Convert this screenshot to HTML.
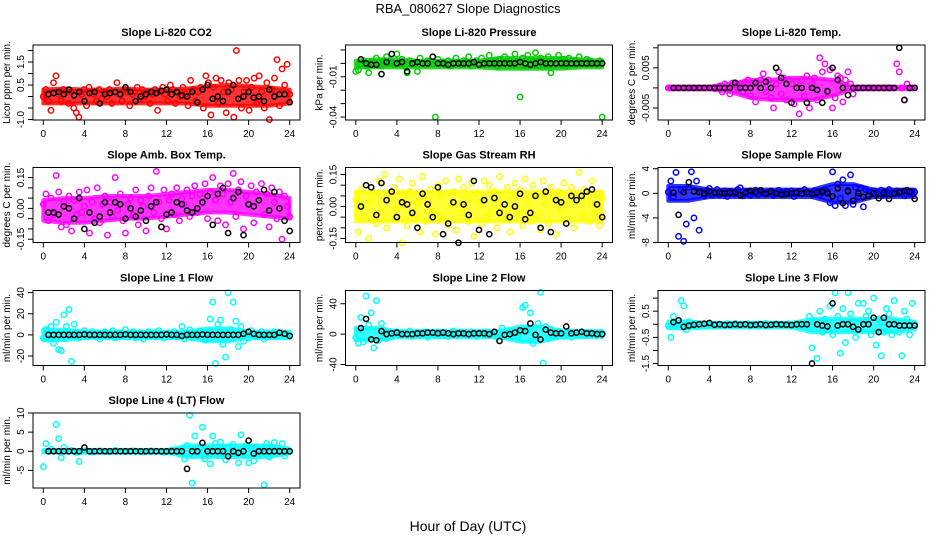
<!DOCTYPE html>
<html><head><meta charset="utf-8">
<style>
html,body{margin:0;padding:0;background:#fff;}
svg{display:block;font-family:"Liberation Sans",Arial,sans-serif;}
</style></head>
<body>
<svg id="chart" width="936" height="540" viewBox="0 0 936 540" xmlns="http://www.w3.org/2000/svg">
<rect x="0" y="0" width="936" height="540" fill="#fff"/>
<text x="468" y="13" text-anchor="middle" font-size="13">RBA_080627  Slope Diagnostics</text>
<text x="468" y="531" text-anchor="middle" font-size="14">Hour of Day (UTC)</text>
</svg>
<script>
const xTicks=[0,4,8,12,16,20,24];
const bandHours=[0,2,4,6,8,10,12,14,16,18,20,22,24];
const panelTitles=["Slope Li-820 CO2","Slope Li-820 Pressure","Slope Li-820 Temp.","Slope Amb. Box Temp.","Slope Gas Stream RH","Slope Sample Flow","Slope Line 1 Flow","Slope Line 2 Flow","Slope Line 3 Flow","Slope Line 4 (LT) Flow"];
const yTitles=["Licor ppm per min.","kPa per min.","degrees C per min.","degrees C per min.","percent per min.","ml/min per min.","ml/min per min.","ml/min per min.","ml/min per min.","ml/min per min."];
const seriesColors=["#ff0000","#00cc00","#ff00ff","#ff00ff","#ffff00","#0000ff","#00ffff","#00ffff","#00ffff","#00ffff"];
const yMin=[-1.02,-0.0422,-0.008,-0.166,-0.169,-8.0,-29,-41.3,-1.575,-9.6];
const yMax=[2.24,0.0137,0.0107,0.199,0.183,4.2,42,57.4,1.29,10];
const yTickVals=[[-1,-0.5,0,0.5,1,1.5,2],[-0.04,-0.03,-0.02,-0.01,0,0.01],[-0.005,0,0.005,0.01],[-0.15,-0.1,-0.05,0,0.05,0.1,0.15],[-0.15,-0.1,-0.05,0,0.05,0.1,0.15],[-8,-4,0,4],[-20,0,20,40],[-40,0,40],[-1.5,-1,-0.5,0,0.5,1],[-5,0,5,10]];
const yTickLabels=[["-1.0","","","0.5","","1.5",""],["-0.04","","","-0.01","",""],["-0.005","","0.005",""],["-0.15","","","0.00","","","0.15"],["-0.15","","","0.00","","","0.15"],["-8","-4","0","4"],["-20","0","20","40"],["-40","0","40"],["-1.5","","-0.5","","0.5",""],["-5","0","5","10"]];

/* dense-cloud envelopes (low / high) at bandHours */
const co2Lo=[-0.3,-0.3,-0.3,-0.3,-0.3,-0.3,-0.3,-0.3,-0.4,-0.4,-0.4,-0.4,-0.3];
const co2Hi=[0.3,0.35,0.3,0.3,0.35,0.3,0.3,0.35,0.45,0.5,0.45,0.4,0.3];
const presLo=[-.003,-.003,-.003,-.003,-.003,-.003,-.003,-.004,-.004,-.004,-.004,-.003,-.003];
const presHi=[.002,.003,.003,.002,.002,.002,.002,.004,.004,.004,.004,.003,.002];
const tempLo=[-.0003,-.0003,-.0003,-.001,-.0025,-.003,-.003,-.003,-.002,-.0003,-.0003,-.0003,-.0003];
const tempHi=[.0003,.0003,.0003,.001,.002,.002,.0025,.0025,.002,.0003,.0003,.0003,.0003];
const ambLo=[-.06,-.07,-.07,-.06,-.05,-.05,-.04,-.03,-.02,-.02,-.03,-.04,-.05];
const ambHi=[.04,.05,.05,.06,.06,.06,.07,.08,.09,.09,.08,.07,.05];
const rhLo=[-.07,-.07,-.07,-.07,-.07,-.07,-.07,-.07,-.07,-.07,-.07,-.07,-.07];
const rhHi=[.07,.07,.07,.07,.07,.07,.07,.07,.07,.07,.07,.07,.07];
const sfLo=[-1.2,-1.2,-0.6,-0.6,-0.6,-0.6,-0.6,-0.6,-1.5,-1.5,-0.6,-0.6,-0.6];
const sfHi=[1.2,1.2,0.6,0.6,0.6,0.6,0.6,0.6,1.5,1.5,0.6,0.6,0.6];
const l1Lo=[-5,-5,-3,-3,-3,-3,-3,-3,-6,-6,-3,-3,-3];
const l1Hi=[5,5,3,3,3,3,3,3,6,6,3,3,3];
const l2Lo=[-8,-8,-4,-4,-4,-4,-4,-4,-10,-10,-4,-4,-4];
const l2Hi=[8,8,4,4,4,4,4,4,10,10,4,4,4];
const l3Lo=[-.15,-.15,-.12,-.12,-.12,-.12,-.12,-.3,-.3,-.3,-.3,-.3,-.2];
const l3Hi=[.1,.1,.05,.05,.05,.05,.05,.2,.2,.2,.2,.2,.1];
const l4Lo=[-.3,-.3,-.3,-.3,-.3,-.3,-.3,-1.5,-1.5,-1.5,-1.5,-1.5,-.5];
const l4Hi=[.3,.3,.3,.3,.3,.3,.3,1.5,1.5,1.5,1.5,1.5,.5];

const co2C=[0.0,0.3,-0.2,-0.6,0.6,0.9,0.1,-0.2,0.3,0.2,-0.3,0.2,-0.5,-0.7,-0.9,0.1,0.3,-0.4,0.4,0.2,0.1,-0.2,0.3,-0.1,0.2,0.0,0.3,-0.3,0.2,0.6,0.1,-0.2,0.3,0.2,-0.4,0.1,0.2,0.4,-0.1,0.3,0.0,0.2,-0.3,0.1,0.3,-0.6,0.2,0.4,0.1,-0.2,0.5,0.3,-0.3,0.2,0.0,0.4,0.1,-0.4,0.7,0.3,-0.2,0.2,0.4,-0.5,0.9,0.6,-0.8,0.4,0.8,-0.3,0.7,0.2,-0.7,0.6,0.3,-0.9,2.0,0.7,-0.5,0.2,0.7,-0.6,0.4,0.8,-0.3,0.9,0.2,-0.5,0.6,-1.0,0.3,0.8,1.6,-0.4,1.2,0.5,1.4,0.1];
const co2K=[0.1,0.15,0.2,0.1,0.3,0.05,0.2,-0.2,0.15,0.2,-0.3,0.1,0.15,0.2,0.1,0.4,0.2,-0.2,0.0,0.1,0.2,0.15,0.25,0.3,0.1,0.2,0.05,0.0,0.2,-0.25,0.3,0.5,-0.1,0.0,-0.2,0.2,0.5,-0.1,0.0,0.2,-0.05,0.0,-0.2,0.3,0.0,0.1,0.1,-0.25];
const presC=[-.006,-.005,.0,.002,-.002,-.007,.001,-.001,.004,.0,-.002,.002,.005,.0,.001,-.001,.007,.0,.003,-.002,-.007,.002,.0,.001,-.006,.004,.0,-.001,.002,.001,.0,-.04,.003,.0,.001,-.001,.002,-.002,.0,.004,.001,-.001,.002,.0,.005,-.002,.001,.002,.0,.004,-.001,.001,.006,.0,.002,-.002,.003,.001,.005,-.001,.002,.0,.007,.001,-.025,.004,-.001,.006,.0,.002,.008,-.002,.004,.001,-.001,.005,-.007,.002,.0,.006,.001,.003,-.002,.004,.0,.002,-.001,.005,.001,.0,.003,.002,.001,.0,-.001,.002,-.04];
const presK=[.003,0,-.001,-.001,-.008,.001,.007,0,.001,-.006,0,.001,0,0,.005,0,0,-.001,0,0,0,0,.001,-.001,0,0,0,0,0,0,0,.001,0,-.001,0,.001,0,0,0,0,0,0,0,0,0,0,0,0];
const tempC=[0,0,0,0,0,0,0,0,0,0,0,0,0,0,0,0,0,0,0,0,.0005,-.001,.001,0,-.0015,.0012,.0008,0,.001,-.001,.0015,.002,-.002,.001,-.0035,.001,.002,.0035,-.001,.002,-.0025,-.005,.001,.004,-.0015,.0025,-.003,.002,.001,-.004,.0015,-.0065,.002,-.002,.003,-.005,.001,.0025,-.003,.0075,.004,.006,-.001,.0045,-.005,-.0025,.003,.0025,-.0035,.002,.004,.001,-.0015,0,0,0,0,0,0,0,0,0,0,0,0,0,0,0,0,.006,.004,0,-.003,.001,0,0,0];
const tempK=[0,0,0,0,0,0,0,0,0,0,0,0,.0013,0,0,0,.0013,0,.0015,0,.005,.0025,.001,-.0037,0,0,-.0037,0,-.0005,-.0037,-.0008,.005,.002,0,-.0018,0,0,0,0,0,0,0,0,0,.01,-.003,0,0];
const ambC=[.02,.07,-.06,.05,-.03,.16,.08,-.09,.03,-.08,.06,-.11,.04,-.03,.08,-.02,.01,.09,-.12,.03,-.05,.1,-.07,.02,.06,-.13,.03,-.04,.15,-.01,.07,-.06,-.12,.02,.05,-.03,.09,-.08,.04,.01,-.11,.06,.1,-.02,.18,.03,-.05,.09,-.1,.04,.07,-.03,.1,-.06,.05,.02,.09,-.04,.06,.11,-.02,.07,.03,.12,-.05,.08,.15,.04,-.06,.11,.07,-.08,.12,.03,.17,-.04,.09,.13,-.1,.06,.02,.11,-.07,.08,.04,.12,-.03,.07,-.09,.1,.03,-.05,.08,-.15,.06,.01,-.04];
const ambK=[-.02,-.02,-.03,.01,.0,-.05,.05,-.1,-.02,-.07,-.04,.03,-.02,.03,.02,-.05,.0,-.04,-.01,-.06,.01,.03,-.09,-.03,-.02,.03,.02,-.01,-.02,.0,.03,.06,-.08,.07,.1,-.12,.05,.08,-.13,.02,.01,.04,.09,-.01,.08,.0,-.06,-.11];
const rhC=[.03,-.12,.08,-.05,.1,-.15,.02,.06,-.08,.12,-.03,.15,-.1,.04,-.06,.09,-.01,.13,-.17,.05,-.09,.07,.11,-.04,.02,-.12,.14,-.07,.03,.08,-.02,-.13,.1,.05,-.05,.12,-.09,.01,.07,-.11,.13,-.03,.09,.04,-.07,.11,-.14,.06,.02,-.08,.12,-.05,.1,-.02,.07,-.1,.14,.03,-.06,.09,-.12,.05,.11,-.03,.08,-.09,.13,.02,-.07,.1,-.04,.06,-.11,.12,.01,-.08,.09,.04,-.13,.07,-.02,.11,-.06,.03,.09,-.1,.05,.16,-.04,.08,.02,-.07,.12,-.03,.06,-.09,.04];
const rhK=[.0,.1,.09,-.04,.11,.03,.07,-.05,.02,.01,-.03,-.1,.06,.01,-.05,.09,-.13,-.08,.02,-.17,.01,-.04,.12,-.11,.03,-.13,.04,-.03,.01,-.05,.0,.06,-.06,-.03,.05,-.1,.07,-.12,.03,.02,-.08,.05,.03,.05,.07,.08,.01,-.05];
const sfC=[.2,2,-.5,3.4,-7,.5,-7.8,-5,1,3.5,-4,2,-6,.3,-.4,.5,.8,-.3,.2,.6,-.2,.1,.4,-.5,.3,.2,-.1,.6,.9,-.4,.2,.3,-.3,.1,.5,-.2,.3,.1,-.1,.2,.4,-.3,.1,.5,.2,-.2,.3,.1,.4,-.5,.2,.3,-.1,.6,.2,.1,-.3,.4,.2,-.2,.1,.5,.3,-1.5,3.5,-2,1.5,-.8,2.2,-2,.5,3,-1.8,1,-.5,.9,-2.2,.6,.3,.2,.4,-.3,.1,.5,-.2,.3,.6,.2,-.1,.4,.3,.2,-.4,.5,.1,.3,.2];
const sfK=[.1,-3.5,.2,1.8,.3,.2,.0,.3,.1,.2,.0,.1,.2,-.3,.1,.4,.2,.5,-.1,.3,.0,-.2,-.1,.0,.1,.0,.2,-.1,.1,.3,.0,-.5,.8,-1.6,.3,-1.2,.0,-.6,-.4,.0,-.8,.1,-.9,.0,.2,.4,.3,-.9];
const l1C=[-3,5,-4,8,-8,12,-14,-15,19,8,24,-25,10,2,-3,1,4,-2,0,3,-1,2,-4,1,3,-2,0,4,-3,1,2,-1,5,-2,0,3,-3,1,2,-4,0,3,-1,2,-2,4,0,-3,1,2,-1,3,-2,0,8,-4,2,5,-3,1,-2,4,0,-5,2,15,31,-27,10,14,-9,-21,40,5,31,13,-11,8,-6,2,-3,4,0,-2,1,3,-4,2,0,-1,3,-2,1,2,-1,1,0];
const l1K=[0,0,0,0,0,0,0,0.5,0,0,0,0,0,0,0,0.5,0,0,0,0,0,0,0,0.5,0,0,-1,0,0,0,0.5,0,0,0,0,0,0,0,1,3,1,0,0,0,0,2,1,-1];
const l2C=[-5,-12,22,-10,50,12,28,-18,44,-8,14,5,-6,2,-3,1,3,-2,0,2,-1,4,-3,1,2,-2,0,3,-4,1,2,-1,3,-2,0,2,-3,1,4,-2,0,3,-1,2,-2,3,0,-3,1,2,-1,3,-2,0,2,-4,2,8,-3,1,-2,4,0,-5,2,35,38,5,28,-12,-8,14,55,-38,10,-5,6,3,-2,4,0,-3,1,3,-4,2,0,-1,3,-2,1,2,-1,1,0,2,1];
const l2K=[8,20,-7,-8,4,0,1,2,0,0,0,1,1,2,2,1,2,1,0,1,1,0,1,1,1,0,3,-9,-1,0,2,5,4,14,-1,-7,6,2,1,1,10,1,2,3,1,1,0,0];
const l3C=[-.05,-.5,.3,-.1,.05,.9,.7,-.2,.1,-.05,.0,-.08,.02,-.04,.0,-.06,.03,-.02,-.07,.01,-.05,.0,-.03,.02,-.06,-.01,.03,-.05,.0,-.04,-.02,.02,-.07,.0,-.03,.01,-.05,-.02,.03,-.06,.0,-.04,.02,-.01,-.05,.0,-.03,.02,-.06,.0,-.02,.03,-.04,.0,-.05,.3,-.9,.1,-1.3,.5,-.3,.2,-.2,.7,-.4,1.2,.3,-1.1,.6,-.7,1.2,.4,.1,-.5,.8,-.2,.8,.3,.5,-.4,1.0,-.8,.2,-1.2,-.3,.6,.4,-.4,.9,.1,-.3,-1.2,.5,.2,-.4,.8,.0];
const l3K=[.08,.15,-.1,-.05,-.02,.0,.02,.05,-.02,.0,-.03,-.02,.0,-.02,.0,-.03,-.02,.0,-.03,-.02,.0,-.01,-.02,-.03,.0,.0,.0,-1.5,.0,-.05,-.08,.8,-.05,.0,.0,-.1,-.2,.0,.0,.25,-.3,.25,.0,.0,-.05,-.05,-.05,-.05];
const l4C=[-4,2,0,.5,0,7,3.3,-1.7,1,0,0,.2,0,-.3,-2.7,0,.1,0,0,-.2,0,0,.1,0,0,-.1,0,0,.2,0,0,0,-.1,0,0,.1,0,0,0,-.2,0,0,.1,0,0,0,0,-.3,0,0,.1,0,0,.2,-.5,-2,1.5,9.4,-8.3,4,-.5,1,6.3,-2,.5,-3.3,4,2,-1,2.4,.5,-2.2,1,-.3,1.8,0,-3,4.3,-1,1.5,-3,.5,-2.5,1.2,-1,.5,-8.8,2,-1.5,1,2.3,-.6,.8,2,-1.2,.4,0];
const l4K=[0,0,0,0,0,0,0,1,0,0,0,0,0,0,0,0,0,0,0,0,0,0,0,0,0,0,0,-4.6,0,0,2.2,0,0,0,0,-1.3,0,-.4,0,2.8,-.6,0,0,0,0,0,0,0];

const colorSeries=[co2C,presC,tempC,ambC,rhC,sfC,l1C,l2C,l3C,l4C];
const blackSeries=[co2K,presK,tempK,ambK,rhK,sfK,l1K,l2K,l3K,l4K];
const bandLow=[co2Lo,presLo,tempLo,ambLo,rhLo,sfLo,l1Lo,l2Lo,l3Lo,l4Lo];
const bandHigh=[co2Hi,presHi,tempHi,ambHi,rhHi,sfHi,l1Hi,l2Hi,l3Hi,l4Hi];

const NS="http://www.w3.org/2000/svg";
const svg=document.getElementById('chart');
function mk(tag,attrs,parent){const e=document.createElementNS(NS,tag);for(const k in attrs)e.setAttribute(k,attrs[k]);(parent||svg).appendChild(e);return e;}
const colLeft=[33,345.5,658], rowTop=[45,167.5,290.5,413], W=267, H=75;
for(let p=0;p<10;p++){
  const L=colLeft[p%3], T=rowTop[Math.floor(p/3)], B=T+H;
  const g=mk('g',{});
  
  
  const xs=h=>L+10.3+h*(W-20.6)/24;
  const ys=v=>B-(v-yMin[p])/(yMax[p]-yMin[p])*H;
  const t=mk('text',{x:L+W/2,y:T-9,'text-anchor':'middle','font-size':11,'font-weight':'bold'},g);
  t.textContent=panelTitles[p];
  
  
  // dense cloud envelope
  let pts=bandHours.map((h,i)=>xs(h)+','+ys(bandHigh[p][i]));
  pts=pts.concat(bandHours.map((h,i)=>xs(h)+','+ys(bandLow[p][i])).reverse());
  const band=mk('polygon',{points:pts.join(' '),fill:seriesColors[p],'fill-opacity':0.8,stroke:seriesColors[p],'stroke-width':4,'stroke-linejoin':'round','stroke-opacity':0.8},g);
  
  
  const cg=mk('g',{},g);
  
  
  const cs=colorSeries[p];
  cs.forEach((v,i)=>{
    const h=i*24/(cs.length-1);
    const c=mk('circle',{cx:xs(h),cy:ys(v),r:2.7,fill:'none',stroke:seriesColors[p],'stroke-width':1.5},cg);
    
    
  });
  const bg=mk('g',{},g);
  
  
  const bs=blackSeries[p];
  bs.forEach((v,i)=>{
    const h=0.5+i*23.5/(bs.length-1);
    const c=mk('circle',{cx:xs(h),cy:ys(v),r:2.6,fill:'none',stroke:'#000','stroke-width':1.5},bg);
    
    
  });
  const box=mk('rect',{x:L,y:T,width:W,height:H,fill:'none',stroke:'#000','stroke-width':1},g);
  
  
  xTicks.forEach(h=>{
    mk('line',{x1:xs(h),x2:xs(h),y1:B,y2:B+5,stroke:'#000'},g);
    const tl=mk('text',{x:xs(h),y:B+17,'text-anchor':'middle','font-size':10},g);
    tl.textContent=h;
    
    
  });
  yTickVals[p].forEach((v,i)=>{
    const y=ys(v);
    mk('line',{x1:L-5,x2:L,y1:y,y2:y,stroke:'#000'},g);
    const lab=yTickLabels[p][i];
    if(lab){
      const tl=mk('text',{x:0,y:0,'text-anchor':'middle','font-size':10,transform:`translate(${L-9},${y}) rotate(-90)`},g);
      tl.textContent=lab;
      
      
    }
  });
  const yt=mk('text',{x:0,y:0,'text-anchor':'middle','font-size':10,transform:`translate(${L-23},${T+H/2}) rotate(-90)`},g);
  yt.textContent=yTitles[p];
  
  
}
</script>
</body></html>
